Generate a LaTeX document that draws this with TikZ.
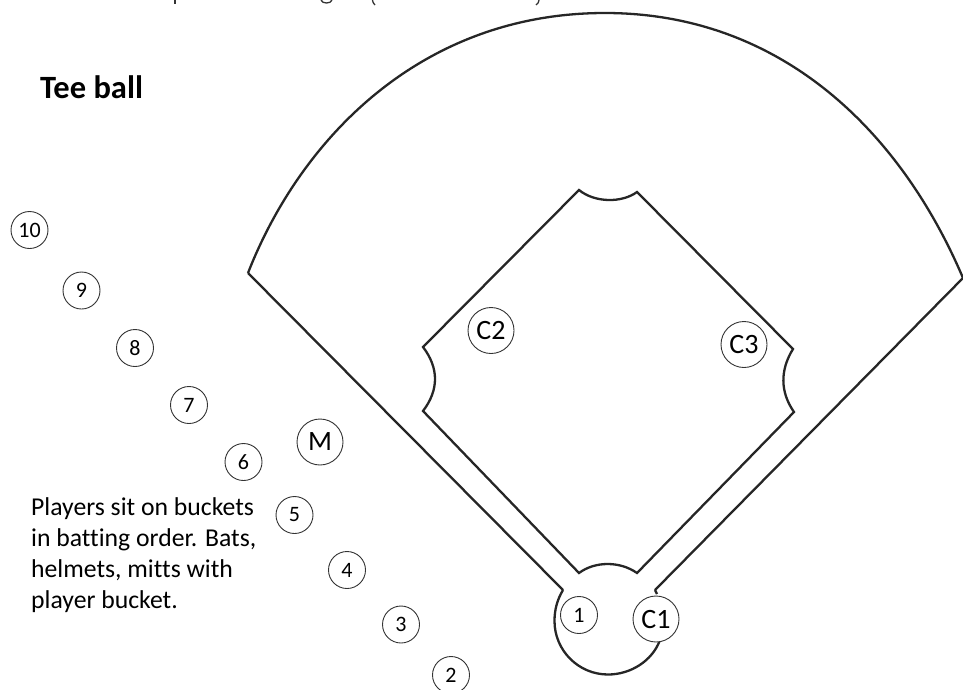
\documentclass[tikz,border=0pt]{standalone}
\usepackage{fontspec}
\setmainfont{Carlito}[Ligatures=NoCommon]
\begin{document}
\begin{tikzpicture}[x=1pt,y=-1pt,
  fieldline/.style={line width=2.3pt,black!85,line join=miter},
  remnant/.style={line width=1.3pt,black!80},
  small/.style={circle,draw=black!80,line width=0.9pt,minimum size=37pt,inner sep=0pt,font=\fontsize{22}{22}\selectfont},
  big/.style={circle,draw=black!80,line width=0.9pt,fill=white,minimum size=46pt,inner sep=0pt,font=\fontsize{28}{28}\selectfont}]
\useasboundingbox (0,0) rectangle (963,689);
\clip (0,0) rectangle (963,689);
% descenders of a heading cut off by the top edge
\draw[remnant] (175,0) -- (175,4);
\draw[remnant] (321,0) .. controls (322,4) and (331,4) .. (332,0);
\draw[remnant] (372.5,0) .. controls (372.5,2) and (373.5,3.5) .. (375,5);
\draw[remnant] (539,0) .. controls (539,2) and (538,3.5) .. (536,5);
\draw[fieldline] (248,273) .. controls (300,140) and (420,13) .. (605,13) .. controls (780,13) and (900,130) .. (963,278);
\draw[fieldline] (248,273) -- (563,590);
\draw[fieldline] (963,278) -- (655,590);
\draw[fieldline] (563,590) .. controls (557,600) and (554.5,610) .. (554.5,621) .. controls (554.5,650.5) and (578.5,674.5) .. (608,674.5) .. controls (630.5,674.5) and (652.3,661) .. (660,640);
\draw[fieldline] (655,590) -- (657,594);
\draw[fieldline] (579,190) .. controls (595,203) and (622,203) .. (637,192) -- (793,349)
  .. controls (780,370) and (780,392) .. (794,412) -- (637,573) .. controls (620,561) and (595,561) .. (579,573)
  -- (423,411) .. controls (439,390) and (439,368) .. (423,347) -- cycle;
\node[big] (c1) at (656,619) {C1};
\node[big] (c2) at (491,330.5) {C2};
\node[big] (c3) at (744,344.5) {C3};
\node[big] (m) at (320,442) {M};
\node[small] (p1) at (579,615) {1};
\node[small] (p2) at (451,675) {2};
\node[small] (p3) at (401,624.5) {3};
\node[small] (p4) at (347,570) {4};
\node[small] (p5) at (294.5,515) {5};
\node[small] (p6) at (243.5,462) {6};
\node[small] (p7) at (189,405) {7};
\node[small] (p8) at (135,348) {8};
\node[small] (p9) at (81.5,290.5) {9};
\node[small] (p10) at (29.5,230) {10};
\node[anchor=west,inner sep=0pt,font=\fontsize{32.5}{32.5}\selectfont\bfseries] (title) at (40,87) {Tee ball};
\node[anchor=north west,align=left,inner sep=0pt,font=\fontsize{25.7}{31.3}\selectfont] (note) at (31,497) {Players sit on buckets\\in batting order. Bats,\\helmets, mitts with\\player bucket.};
\end{tikzpicture}
\end{document}
